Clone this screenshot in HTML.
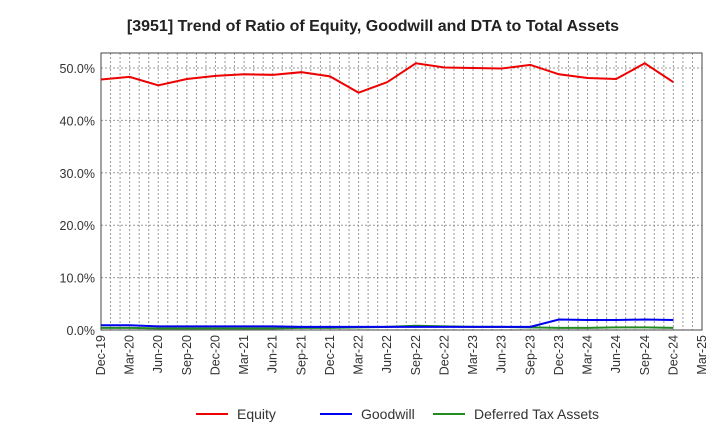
<!DOCTYPE html>
<html><head><meta charset="utf-8"><style>
body{margin:0;background:#fff;font-family:"Liberation Sans",Arial,sans-serif}
</style></head><body>
<svg id="c" width="720" height="440" xmlns="http://www.w3.org/2000/svg">
<text x="373" y="31" text-anchor="middle" font-size="16" font-weight="bold" fill="#222">[3951]  Trend of Ratio of Equity, Goodwill and DTA to Total Assets</text>
<g id="grid"></g><g id="axes"></g><g id="series"></g>
<g id="legend"></g>
</svg>
<script>
const categories=["Dec-19","Mar-20","Jun-20","Sep-20","Dec-20","Mar-21","Jun-21","Sep-21","Dec-21","Mar-22","Jun-22","Sep-22","Dec-22","Mar-23","Jun-23","Sep-23","Dec-23","Mar-24","Jun-24","Sep-24","Dec-24","Mar-25"];
const equity=[47.8,48.3,46.7,47.9,48.5,48.8,48.7,49.2,48.4,45.3,47.3,50.9,50.1,50.0,49.9,50.6,48.8,48.1,47.9,50.9,47.3];
const goodwill=[0.9,0.9,0.7,0.7,0.7,0.7,0.7,0.6,0.6,0.6,0.6,0.6,0.6,0.6,0.6,0.6,2.0,1.9,1.9,2.0,1.9];
const dta=[0.4,0.4,0.3,0.3,0.3,0.3,0.3,0.4,0.4,0.5,0.6,0.8,0.7,0.6,0.6,0.5,0.4,0.4,0.5,0.5,0.4];
const yTicks=[0,10,20,30,40,50];
const yTickLabels=["0.0%","10.0%","20.0%","30.0%","40.0%","50.0%"];
const L=101,R=702,T=53,B=330;
const x=i=>L+(R-L)*i/(categories.length-1);
const y=v=>B-(B-68)*v/50;
const ns="http://www.w3.org/2000/svg";
function mk(p,t,a){const e=document.createElementNS(ns,t);for(const k in a)e.setAttribute(k,a[k]);document.getElementById(p).appendChild(e);return e;}
for(let m=1;m<(categories.length-1)*3;m++){const xx=L+(R-L)*m/((categories.length-1)*3);
const g=mk('grid','line',{x1:xx,x2:xx,y1:T,y2:B,stroke:'#999','stroke-dasharray':'2,2','stroke-width':1});
}
yTicks.forEach((v,i)=>{if(v>0){const g=mk('grid','line',{x1:L,x2:R,y1:y(v),y2:y(v),stroke:'#999','stroke-dasharray':'2,2'});
}
const t=mk('axes','text',{x:L-6,y:y(v)+5,'text-anchor':'end','font-size':12.5,fill:'#333'});t.textContent=yTickLabels[i];
});
const fr=mk('axes','rect',{x:L,y:T,width:R-L,height:B-T,fill:'none',stroke:'#444'});

categories.forEach((c,i)=>{const t=mk('axes','text',{transform:`translate(${x(i)+4},${B+5}) rotate(-90)`,'text-anchor':'end','font-size':12.5,fill:'#333'});t.textContent=c;
});
function line(d,col,name){const p=mk('series','polyline',{points:d.map((v,i)=>x(i)+','+y(v)).join(' '),fill:'none',stroke:col,'stroke-width':2});
}
line(dta,'#228b22','dta-line');line(goodwill,'#0000ee','goodwill-line');line(equity,'#ee0000','equity-line');
[["Equity","#ee0000",196],["Goodwill","#0000ee",320],["Deferred Tax Assets","#228b22",433]].forEach(([n,c,lx])=>{
const l=mk('legend','line',{x1:lx,x2:lx+32,y1:414,y2:414,stroke:c,'stroke-width':2});
const t=mk('legend','text',{x:lx+41,y:419,'font-size':14,fill:'#333'});t.textContent=n;});
</script></body></html>
